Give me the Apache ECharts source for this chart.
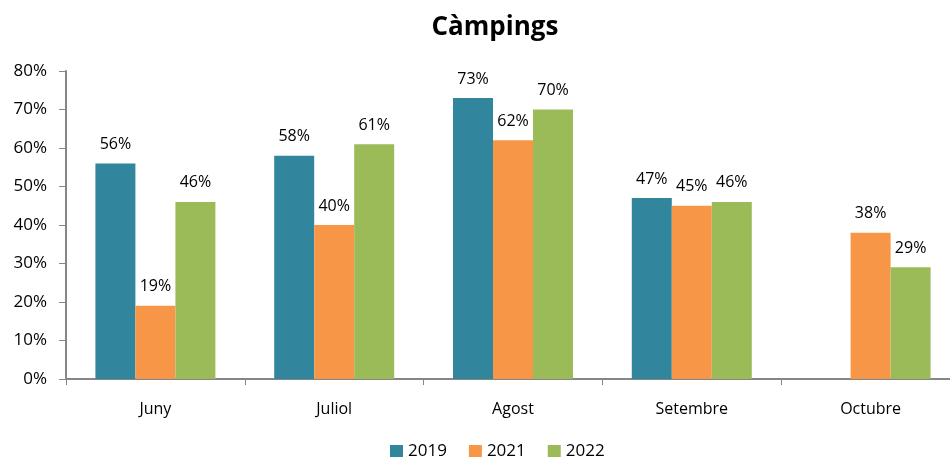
<!DOCTYPE html>
<html>
<head>
<meta charset="utf-8">
<script src="https://cdn.jsdelivr.net/npm/echarts@6/dist/echarts.min.js"></script>
<style>
  html, body { margin: 0; padding: 0; background: #fff; overflow: hidden; }
  #chart { width: 960px; height: 457px; }
</style>
</head>
<body>
<div id="chart"></div>
<script>
const months = ['Juny', 'Juliol', 'Agost', 'Setembre', 'Octubre']
const v2019 = [56, 58, 73, 47, null]
const v2021 = [19, 40, 62, 45, 38]
const v2022 = [46, 61, 70, 46, 29]
const yTicks = [0, 10, 20, 30, 40, 50, 60, 70, 80]

const font = 'Open Sans, Noto Sans, sans-serif'
const colors = ['#31859C', '#F79646', '#9BBB59']

const chart = echarts.init(document.getElementById('chart'))

// the source plot area runs past the right edge of the picture
function barSeries (name, data, color) {
  return {
    name: name,
    type: 'bar',
    data: data,
    barWidth: 40,
    barGap: '0%',
    itemStyle: { color: color },
    label: {
      show: true,
      position: 'top',
      distance: 11,
      formatter: '{c}%',
      color: '#000',
      fontSize: 16,
      fontFamily: font
    }
  }
}

chart.setOption({
  animation: false,
  title: {
    text: 'Càmpings',
    left: 490,
    textAlign: 'center',
    top: 10,
    textStyle: { fontSize: 26, fontWeight: 'bold', color: '#000', fontFamily: font }
  },
  legend: {
    top: 438,
    left: 385,
    itemWidth: 13,
    itemHeight: 13,
    itemGap: 22,
    icon: 'rect',
    textStyle: { fontSize: 17, color: '#000', fontFamily: font },
    data: ['2019', '2021', '2022']
  },
  grid: { left: 66, right: 0, top: 71, height: 308 },
  xAxis: {
    type: 'category',
    data: months,
    axisLine: { lineStyle: { color: '#868686', width: 2 } },
    axisTick: { show: true, length: 6, lineStyle: { color: '#868686' } },
    axisLabel: { fontSize: 16, color: '#000', margin: 22, fontFamily: font }
  },
  yAxis: {
    type: 'value',
    min: yTicks[0],
    max: yTicks[yTicks.length - 1],
    interval: 10,
    splitLine: { show: false },
    axisLine: { show: true, lineStyle: { color: '#868686', width: 2 } },
    axisTick: { show: true, length: 7, lineStyle: { color: '#868686' } },
    axisLabel: { fontSize: 17, color: '#000', margin: 19, formatter: '{value}%', fontFamily: font }
  },
  series: [
    barSeries('2019', v2019, colors[0]),
    barSeries('2021', v2021, colors[1]),
    barSeries('2022', v2022, colors[2])
  ]
})
</script>
</body>
</html>
